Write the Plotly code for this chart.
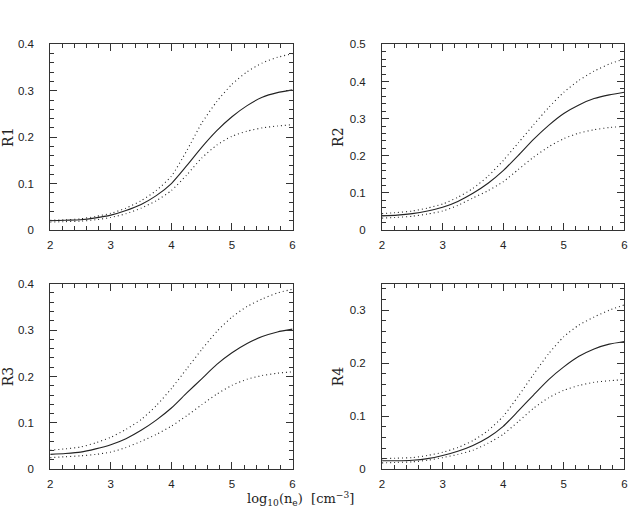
import plotly.graph_objects as go

x = [2.0, 2.25, 2.5, 2.75, 3.0, 3.25, 3.5, 3.75, 4.0, 4.25, 4.5, 4.75, 5.0, 5.25, 5.5, 5.75, 6.0]

r1_mid = [0.020, 0.021, 0.022, 0.026, 0.032, 0.042, 0.055, 0.074, 0.100, 0.138, 0.178, 0.214, 0.244, 0.268, 0.286, 0.296, 0.302]
r1_hi = [0.021, 0.022, 0.024, 0.029, 0.036, 0.047, 0.063, 0.085, 0.116, 0.170, 0.230, 0.277, 0.314, 0.341, 0.360, 0.372, 0.380]
r1_lo = [0.017, 0.018, 0.019, 0.022, 0.027, 0.035, 0.047, 0.063, 0.085, 0.118, 0.155, 0.183, 0.202, 0.213, 0.220, 0.224, 0.227]

r2_mid = [0.038, 0.040, 0.044, 0.051, 0.061, 0.077, 0.099, 0.126, 0.160, 0.201, 0.244, 0.282, 0.314, 0.337, 0.354, 0.364, 0.371]
r2_hi = [0.044, 0.047, 0.051, 0.059, 0.070, 0.088, 0.112, 0.145, 0.187, 0.235, 0.283, 0.330, 0.371, 0.403, 0.428, 0.447, 0.461]
r2_lo = [0.032, 0.034, 0.037, 0.043, 0.051, 0.066, 0.086, 0.106, 0.130, 0.163, 0.196, 0.224, 0.246, 0.261, 0.270, 0.276, 0.279]

r3_mid = [0.032, 0.034, 0.037, 0.044, 0.053, 0.066, 0.084, 0.106, 0.132, 0.164, 0.195, 0.226, 0.251, 0.271, 0.286, 0.296, 0.302]
r3_hi = [0.041, 0.044, 0.048, 0.057, 0.069, 0.086, 0.107, 0.137, 0.174, 0.216, 0.258, 0.297, 0.328, 0.351, 0.367, 0.380, 0.388]
r3_lo = [0.025, 0.027, 0.029, 0.032, 0.037, 0.047, 0.060, 0.075, 0.093, 0.115, 0.139, 0.162, 0.181, 0.194, 0.202, 0.207, 0.210]

r4_mid = [0.016, 0.016, 0.017, 0.020, 0.026, 0.034, 0.045, 0.060, 0.081, 0.110, 0.140, 0.169, 0.193, 0.213, 0.227, 0.236, 0.241]
r4_hi = [0.020, 0.021, 0.022, 0.026, 0.032, 0.041, 0.054, 0.073, 0.100, 0.138, 0.179, 0.218, 0.250, 0.272, 0.287, 0.300, 0.310]
r4_lo = [0.012, 0.013, 0.014, 0.017, 0.022, 0.028, 0.036, 0.049, 0.066, 0.090, 0.115, 0.135, 0.149, 0.158, 0.164, 0.167, 0.169]

panels = [
    ("R1", r1_mid, r1_hi, r1_lo, [0, 0.4]),
    ("R2", r2_mid, r2_hi, r2_lo, [0, 0.5]),
    ("R3", r3_mid, r3_hi, r3_lo, [0, 0.4]),
    ("R4", r4_mid, r4_hi, r4_lo, [0, 0.35]),
]

W, H = 633, 516
xdoms = [(47.7 / W, 292.3 / W), (382.7 / W, 627.3 / W)]
ydoms = [(1 - 229.3 / H, 1 - 39.3 / H), (1 - 474.3 / H, 1 - 284.3 / H)]

fig = go.Figure()
tickfont = dict(family="Liberation Sans, Arial, sans-serif", size=11.5, color="#222")
titlefont = dict(family="DejaVu Serif, serif", size=14, color="#222")

layout = dict(
    width=W, height=H,
    margin=dict(l=0, r=0, t=0, b=0),
    paper_bgcolor="white", plot_bgcolor="white",
    showlegend=False,
)

for i, (name, mid, hi, lo, yr) in enumerate(panels):
    row, col = divmod(i, 2)
    n = "" if i == 0 else str(i + 1)
    xa, ya = "x" + n, "y" + n
    for ys, dash in ((mid, "solid"), (hi, "1px,3px"), (lo, "1px,3px")):
        fig.add_trace(go.Scatter(
            x=x, y=ys, mode="lines", xaxis=xa, yaxis=ya,
            line=dict(color="#222", width=1.1, dash=dash, shape="spline", smoothing=0.6),
        ))
    layout["xaxis" + n] = dict(
        domain=list(xdoms[col]), anchor=ya, range=[2, 6],
        showline=True, linecolor="#333", linewidth=1, mirror="allticks",
        ticks="inside", ticklen=7, tickwidth=1, tickcolor="#333", dtick=1, tick0=2,
        minor=dict(ticks="inside", ticklen=4, tickwidth=1, dtick=0.2, tickcolor="#333"),
        showgrid=False, zeroline=False, tickfont=tickfont, ticklabelstandoff=4,
    )
    layout["yaxis" + n] = dict(
        domain=list(ydoms[row]), anchor=xa, range=yr,
        showline=True, linecolor="#333", linewidth=1, mirror="allticks",
        ticks="inside", ticklen=7, tickwidth=1, tickcolor="#333", dtick=0.1, tick0=0,
        minor=dict(ticks="inside", ticklen=4, tickwidth=1, dtick=0.02, tickcolor="#333"),
        showgrid=False, zeroline=False, tickfont=tickfont, ticklabelstandoff=13,
        title=dict(text=name, font=titlefont, standoff=2),
    )

fig.update_layout(**layout)
fig.add_annotation(
    x=300 / W, y=1 - 505 / H, xref="paper", yref="paper", showarrow=False,
    text="log<sub>10</sub>(n<sub>e</sub>)  [cm<sup>−3</sup>]",
    font=dict(family="DejaVu Serif, serif", size=13, color="#222"),
    xanchor="center", yanchor="middle",
)

fig.write_html("out.html")
